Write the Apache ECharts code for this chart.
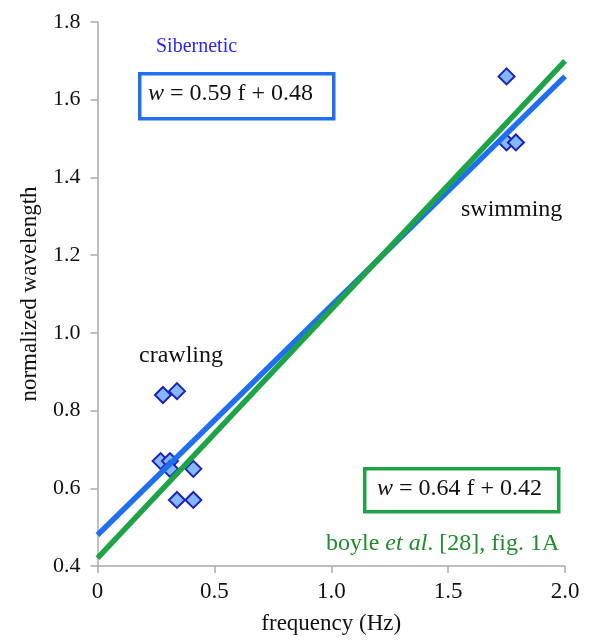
<!DOCTYPE html>
<html>
<head>
<meta charset="utf-8">
<script src="https://cdn.jsdelivr.net/npm/echarts@6/dist/echarts.min.js"></script>
<style>
  html, body { margin: 0; padding: 0; background: #fff; }
  #chart { width: 592px; height: 640px; }
</style>
</head>
<body>
<div id="chart"></div>
<script>
// measured points [frequency, normalized wavelength]
var crawling = [
  [0.28, 0.84], [0.34, 0.85],
  [0.27, 0.67], [0.31, 0.67], [0.31, 0.65], [0.41, 0.65],
  [0.34, 0.57], [0.41, 0.57]
];
var swimming = [[1.75, 1.66], [1.75, 1.49], [1.79, 1.49]];

// fit lines, end points
var siberneticFit = [[0, 0.48], [2.0, 1.66]];
var boyleFit = [[0, 0.42], [2.0, 1.70]];

var xTicks = ['0', '0.5', '1.0', '1.5', '2.0'];

var serif = '"Liberation Serif", "DejaVu Serif", serif';
var blue = '#1f6ff2';
var green = '#1ea446';

var chart = echarts.init(document.getElementById('chart'));

function label(x, y, text, size, color, rich) {
  return {
    type: 'text', x: x, y: y,
    style: {
      text: text, fontFamily: serif, fontSize: size, fill: color,
      verticalAlign: 'middle', align: 'left',
      rich: rich ? { i: { fontFamily: serif, fontSize: size, fontStyle: 'italic', fill: color } } : undefined
    }
  };
}

chart.setOption({
  animation: false,
  grid: { left: 97.5, right: 27, top: 22, bottom: 72 },
  xAxis: {
    type: 'value', min: 0, max: 2, interval: 0.5,
    name: 'frequency (Hz)', nameLocation: 'middle', nameGap: 46,
    nameTextStyle: { fontFamily: serif, fontSize: 23, color: '#111' },
    axisLine: { lineStyle: { color: '#aaa', width: 1.5 } },
    axisTick: { length: 7, lineStyle: { color: '#aaa', width: 1.5 } },
    splitLine: { show: false },
    axisLabel: {
      fontFamily: serif, fontSize: 23, color: '#111', margin: 14,
      formatter: function (v) { return xTicks[Math.round(v / 0.5)]; }
    }
  },
  yAxis: {
    type: 'value', min: 0.4, max: 1.8, interval: 0.2,
    name: 'normalized wavelength', nameLocation: 'middle', nameGap: 56,
    nameTextStyle: { fontFamily: serif, fontSize: 23, color: '#111' },
    axisLine: { show: true, lineStyle: { color: '#aaa', width: 1.5 } },
    axisTick: { show: true, length: 7, lineStyle: { color: '#aaa', width: 1.5 } },
    splitLine: { show: false },
    axisLabel: {
      fontFamily: serif, fontSize: 22, color: '#111', margin: 17,
      formatter: function (v) { return v.toFixed(1); }
    }
  },
  series: [
    {
      type: 'scatter', data: crawling.concat(swimming),
      symbol: 'diamond', symbolSize: 16,
      itemStyle: { color: '#86b8ff', borderColor: '#1d22b8', borderWidth: 2, opacity: 1 },
      z: 2
    },
    {
      type: 'line', data: siberneticFit, symbol: 'none',
      lineStyle: { color: blue, width: 5.5 }, z: 3
    },
    {
      type: 'line', data: boyleFit, symbol: 'none',
      lineStyle: { color: green, width: 5.5 }, z: 4
    }
  ],
  graphic: [
    label(156, 47, 'Sibernetic', 20, '#2626ff'),
    {
      type: 'rect', left: 138, top: 72,
      shape: { width: 194, height: 45 },
      style: { fill: '#fff', stroke: blue, lineWidth: 3.5 }
    },
    label(148, 94, '{i|w} = 0.59 f + 0.48', 24, '#111', true),
    {
      type: 'rect', left: 363, top: 467,
      shape: { width: 194, height: 43 },
      style: { fill: '#fff', stroke: green, lineWidth: 3.5 }
    },
    label(377, 489, '{i|w} = 0.64 f + 0.42', 24, '#111', true),
    label(326, 544, 'boyle {i|et al}. [28], fig. 1A', 24, '#1f8c2a', true),
    label(139, 356, 'crawling', 24, '#111'),
    label(461, 210, 'swimming', 24, '#111')
  ]
});
</script>
</body>
</html>
